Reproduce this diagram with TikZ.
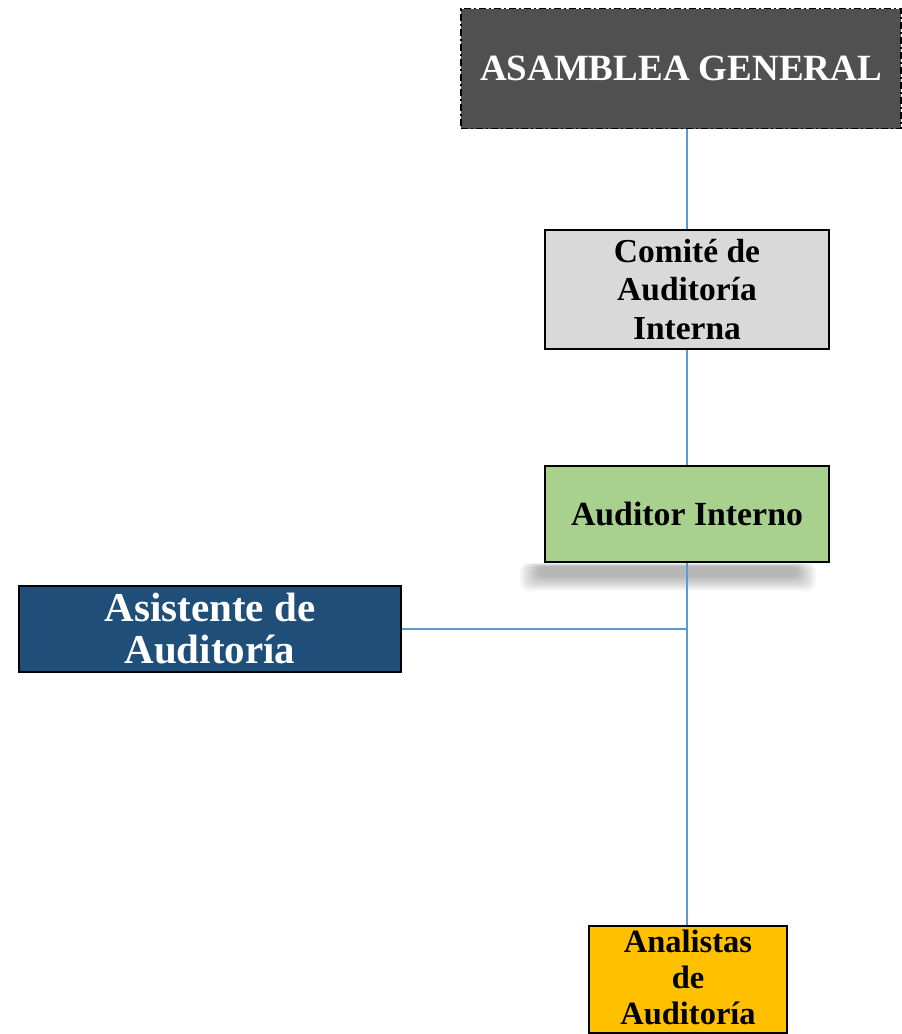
\documentclass[tikz,border=0pt]{standalone}
\usepackage{fontspec}
\setmainfont{Liberation Serif}
\begin{document}
\begin{tikzpicture}[x=1pt,y=-1pt,
  box/.style={draw=black,line width=1.6pt,rectangle,inner sep=0pt,align=center,font=\bfseries},
  link/.style={draw=lineblue,line width=1.7pt}]
\definecolor{asamfill}{HTML}{505050}
\definecolor{comfill}{HTML}{D9D9D9}
\definecolor{audfill}{HTML}{A9D18E}
\definecolor{asisfill}{HTML}{1F4E79}
\definecolor{analfill}{HTML}{FFC000}
\definecolor{lineblue}{HTML}{5B9BD5}
\useasboundingbox (0,0) rectangle (902,1034);
% shadow under Auditor Interno
\foreach \i in {0,...,11}{
  \fill[black,opacity=0.028,rounded corners=8pt] (520+\i*1.6,563+\i*0.3) rectangle (816-\i*1.6,591-\i*1.3);
}
\node[box,draw=black,dash pattern=on 7pt off 3pt on 2pt off 3pt,line width=1.8pt,fill=asamfill,text=white,
  minimum width=440pt,minimum height=120pt,font=\bfseries\fontsize{37}{44}\selectfont]
  (asam) at (681,68.5) {ASAMBLEA GENERAL};
\node[box,fill=comfill,minimum width=284pt,minimum height=119pt,font=\bfseries\fontsize{33.5}{38.5}\selectfont]
  (comite) at (687,289.5) {Comité de\\Auditoría\\Interna};
\node[box,fill=audfill,minimum width=284pt,minimum height=96pt,font=\bfseries\fontsize{33.8}{39}\selectfont]
  (aud) at (687,514) {Auditor Interno};
\node[box,fill=asisfill,text=white,minimum width=382pt,minimum height=86pt,font=\bfseries\fontsize{41}{42}\selectfont]
  (asis) at (210,629) {Asistente de\\Auditoría};
\node[box,fill=analfill,minimum width=198pt,minimum height=107pt]
  (anal) at (688,979.5) {};
\node[inner sep=0pt,align=center,font=\bfseries\fontsize{32.5}{36}\selectfont,anchor=north]
  (analtxt) at ([yshift=-5pt]anal.north) {Analistas\\de\\Auditoría};
\draw[link] (comite.north |- asam.south) -- (comite.north);
\draw[link] (comite.south) -- (aud.north);
\draw[link] (aud.south) -- (aud.south |- anal.north);
\draw[link] (asis.east) -- (asis.east -| aud.south);
\end{tikzpicture}
\end{document}
